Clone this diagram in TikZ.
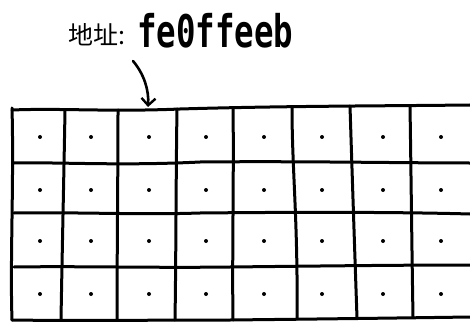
\documentclass[tikz,border=0pt]{standalone}
\usepackage{fontspec}
\usepackage{graphicx}
\newfontfamily\cjk{Noto Sans CJK SC}
\newfontfamily\hexfont{DejaVu Sans Mono}
\usetikzlibrary{arrows.meta}
\begin{document}
\begin{tikzpicture}[x=1pt,y=-1pt,
  gridline/.style={line width=3pt,line cap=round,line join=round},
  celldot/.style={fill=black},
  pointer/.style={line width=2.6pt,line cap=round,-{Straight Barb[length=7pt,width=14pt,line width=2.4pt]}}]
\useasboundingbox (0,0) rectangle (470,323);
% text
\node[anchor=base west,inner sep=0pt] (cjklabel) at (68,45) {\fontsize{25}{25}\selectfont\cjk 地址:};
\node[anchor=base west,inner sep=0pt] (addr) at (137,48) {\scalebox{1.08}[1.5]{\fontsize{30}{30}\selectfont\hexfont\bfseries fe0ffeeb}};
\coordinate (tail) at (133,61);
\coordinate (head) at (148,107);
\draw[pointer] (tail) .. controls (144,74) and (149,90) .. (head);
% horizontal lines
\draw[gridline] (12,110) .. controls (60,108) and (110,112) .. (180,109) .. controls (280,106) and (380,106) .. (470,105);
\draw[gridline] (14,163) .. controls (60,162) and (120,166) .. (200,162) .. controls (300,161) and (400,163) .. (470,163);
\draw[gridline] (14,213) .. controls (80,212) and (140,215) .. (200,213) .. controls (300,212) and (400,212) .. (470,214);
\draw[gridline] (14,267) .. controls (80,266) and (150,268) .. (230,267) .. controls (320,266) and (400,265) .. (470,265);
\draw[gridline] (12,320) .. controls (80,321) and (150,320) .. (230,320) .. controls (320,319) and (400,318) .. (470,317);
% vertical lines
\draw[gridline] (12,108) .. controls (14,180) and (10,260) .. (12,320);
\draw[gridline] (65,110) .. controls (64,170) and (62,260) .. (61,320);
\draw[gridline] (118,110) .. controls (118,170) and (117,260) .. (117,320);
\draw[gridline] (177,109) .. controls (176,170) and (176,260) .. (175,320);
\draw[gridline] (233,108) .. controls (234,170) and (232,260) .. (233,320);
\draw[gridline] (292,107) .. controls (292,170) and (298,220) .. (297,319);
\draw[gridline] (350,106) .. controls (352,170) and (355,260) .. (357,318);
\draw[gridline] (410,106) .. controls (411,170) and (412,260) .. (413,317);
% dots
\foreach \row/\yy in {0/137,1/190,2/241,3/294}{
  \foreach \xx in {40,91,149,206,264,322,383,441}{
    \fill[celldot] (\xx,\yy) circle (2pt);
  }
}
\end{tikzpicture}
\end{document}
